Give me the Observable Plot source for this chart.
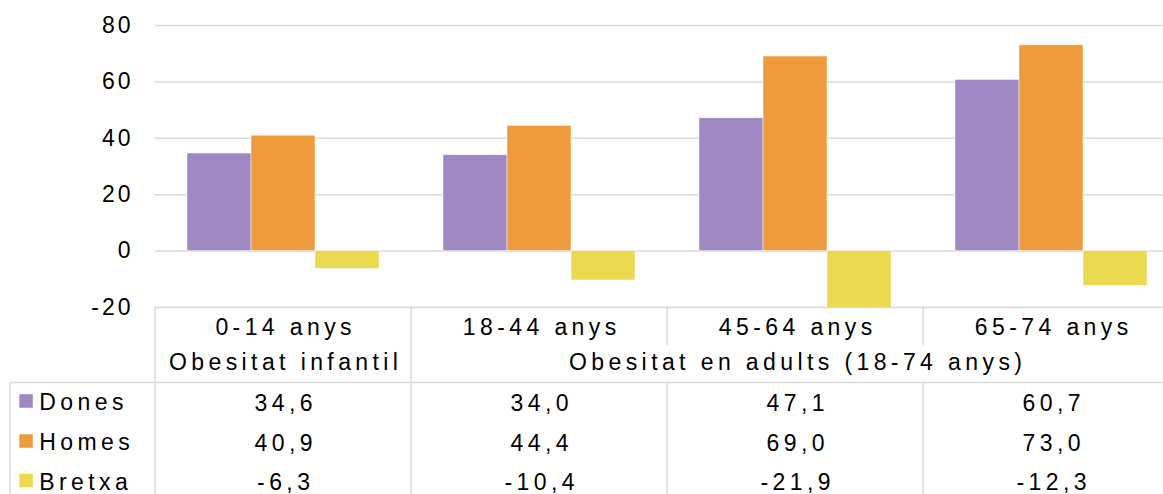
<!DOCTYPE html>
<html>
<head>
<meta charset="utf-8">
<script src="https://cdn.jsdelivr.net/npm/d3@7"></script>
<script src="https://cdn.jsdelivr.net/npm/@observablehq/plot@0.6"></script>
<style>
  html, body { margin: 0; padding: 0; background: #fff; }
  #chart { width: 1163px; height: 494px; overflow: hidden; }
  #chart svg text { letter-spacing: 4.4px; }
  #chart svg g[aria-label="y-axis tick label"] text { letter-spacing: 3px; }
</style>
</head>
<body>
<div id="chart"></div>
<script>
// ---- data ----
const groups = ["0-14 anys", "18-44 anys", "45-64 anys", "65-74 anys"];
const series = ["Dones", "Homes", "Bretxa"];
const dones  = [34.6, 34.0, 47.1, 60.7];
const homes  = [40.9, 44.4, 69.0, 73.0];
const bretxa = [-6.3, -10.4, -21.9, -12.3];
const colors = ["#9e87c2", "#f09b3b", "#ebd94f"];
const yTicks = [-20, 0, 20, 40, 60, 80];
const superLabels = ["Obesitat infantil", "Obesitat en adults (18-74 anys)"];
const superSpans  = [["0-14 anys"], ["18-44 anys", "45-64 anys", "65-74 anys"]];

// ---- derived table ----
const seriesValues = [dones, homes, bretxa];
const data = groups.flatMap((g, i) => series.map((s, j) => ({group: g, series: s, value: seriesValues[j][i]})));
const supers = superLabels.map((label, k) => ({label, groups: superSpans[k]}));
const fmt = v => v.toFixed(1).replace(".", ",");

// layout (pixel offsets below the plot frame)
const catDy = 19.7, superDy = 55.5, lineDy = 75.5, breakDy = 38, rowDy = [96, 136, 175.5];
const ls = 4.4; // letter spacing for table text
const FONT = "'Liberation Sans', Arial, sans-serif";
const GRID = "#d9d9d9";

const tableText = {frameAnchor: "bottom", lineAnchor: "middle", fontSize: 23, fill: "#000", dx: ls / 2};

const plot = Plot.plot({
  width: 1163,
  height: 494,
  marginTop: 25,
  marginBottom: 187,
  marginLeft: 153,
  marginRight: -17,
  style: {fontFamily: FONT, background: "#fff", overflow: "hidden"},
  fx: {domain: groups, padding: 0, axis: null, label: null},
  x: {domain: series, paddingInner: 0, paddingOuter: 0.5, axis: null},
  y: {domain: [-20, 80], axis: null},
  color: {domain: series, range: colors},
  marks: [
    Plot.gridY(yTicks, {stroke: GRID, strokeOpacity: 1, strokeWidth: 1.5}),
    Plot.barY(data, {fx: "group", x: "series", y: "value", fill: "series", clip: true,
                     stroke: "#fff", strokeWidth: 0.8, strokeOpacity: 0.6}),
    Plot.axisY(yTicks, {tickSize: 0, tickPadding: 22, fontSize: 23, fill: "#000", label: null,
                        tickFormat: d => String(d)}),
    Plot.text(groups, {...tableText, fx: d => d, text: d => d, dy: catDy}),
    Plot.text(supers, {...tableText, fx: d => d.groups[Math.floor(d.groups.length / 2)], text: "label", dy: superDy}),
    ...series.map((s, j) => Plot.text(data.filter(d => d.series === s),
        {...tableText, fx: "group", text: d => fmt(d.value), dy: rowDy[j]}))
  ]
});

document.getElementById("chart").appendChild(plot);

// ---- table grid lines and row headers, positioned from Plot's scales ----
const fx = plot.scale("fx");
const yS = plot.scale("y");
const color = plot.scale("color");
const yb = yS.apply(-20);
const H = 494;
const svg = d3.select(plot);
const lines = svg.append("g").attr("stroke", GRID).attr("stroke-width", 1.5).attr("fill", "none");
const rightEdge = fx.apply(groups[groups.length - 1]) + fx.bandwidth;
// horizontal line under the category/super rows
lines.append("line").attr("x1", 10).attr("x2", rightEdge).attr("y1", yb + lineDy).attr("y2", yb + lineDy);
// left border of row-header column
lines.append("line").attr("x1", 10).attr("x2", 10).attr("y1", yb + lineDy).attr("y2", H);
// vertical group separators
groups.forEach(g => {
  const x = fx.apply(g);
  const span = supers.find(s => s.groups.includes(g));
  const inner = span.groups.indexOf(g) > 0;
  if (inner) {
    lines.append("line").attr("x1", x).attr("x2", x).attr("y1", yb).attr("y2", yb + breakDy);
    lines.append("line").attr("x1", x).attr("x2", x).attr("y1", yb + lineDy).attr("y2", H);
  } else {
    lines.append("line").attr("x1", x).attr("x2", x).attr("y1", yb).attr("y2", H);
  }
});
lines.append("line").attr("x1", rightEdge).attr("x2", rightEdge).attr("y1", yb).attr("y2", H);

// row headers with swatches
const heads = svg.append("g").attr("text-anchor", "start");
series.forEach((s, j) => {
  const cy = yb + rowDy[j];
  heads.append("rect").attr("x", 19.3).attr("y", cy - 2 - 6.75).attr("width", 13.5).attr("height", 13.5)
    .attr("fill", color.apply(s));
  heads.append("text").attr("x", 39.3).attr("y", cy).attr("dy", "0.32em").attr("text-anchor", "start")
    .attr("font-size", 23).attr("fill", "#000").attr("font-family", FONT).text(s);
});
</script>
</body>
</html>
